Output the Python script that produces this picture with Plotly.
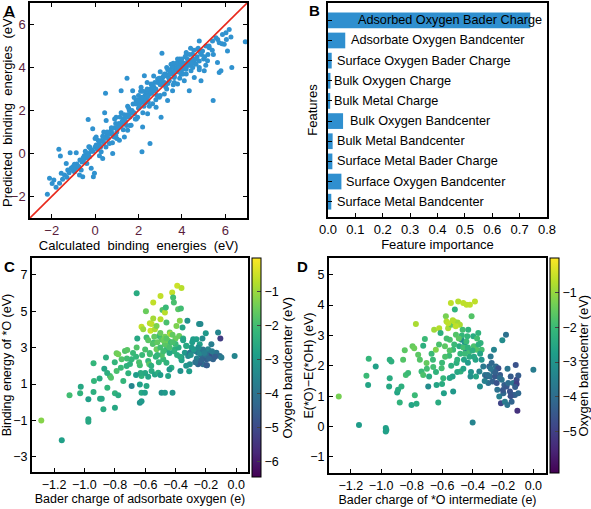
import plotly.graph_objects as go

# ---------------- Panel A data (calculated vs predicted binding energies, eV)
a_calc = [-2.2,-2.1,-1.98,-1.9,-1.67,-1.6,-1.8,-1.64,-1.56,-1.41,-1.33,-1.26,-1.15,-1.1,-1.03,-0.95,-0.87,-0.84,-0.72,-0.64,
          -0.57,-0.49,-0.41,-0.38,-0.29,-0.26,-0.18,-0.08,-0.03,-0.32,-0.11,0.05,0.12,0.2,0.28,0.35,0.44,0.48,0.51,0.58,
          0.66,0.74,0.81,0.89,0.97,1.04,1.12,1.2,1.27,1.35,1.43,1.47,1.5,1.58,1.66,1.73,1.81,1.89,1.96,2.04,
          2.12,2.16,2.19,2.27,2.35,2.42,2.5,2.53,2.58,2.65,2.73,2.81,2.88,2.96,3.04,3.08,3.11,3.19,3.27,3.34,
          3.42,3.5,3.57,3.65,3.73,3.8,3.88,3.96,4.03,4.11,4.19,4.26,4.34,4.42,4.49,4.57,4.65,4.72,4.8,4.88,
          4.95,5.03,5.11,5.18,5.26,5.44,5.41,5.57,5.64,5.72,5.8,5.87,5.95,6.03,6.1,6.18,6.26,6.3,6.92,5.72,4.8,
          -1.2,-1.0,-0.9,-0.8,-0.7,-0.6,-0.5,-0.4,-0.3,-0.2,-0.1,0.0,0.1,0.2,0.3,0.4,0.5,0.6,0.7,0.8,
          0.9,1.0,1.1,1.2,1.3,1.4,1.5,1.6,1.7,1.8,1.9,2.0,2.1,2.2,2.3,2.4,2.5,2.6,2.7,2.8,
          2.9,3.0,3.1,3.2,3.3,3.4,3.5,3.6,3.7,3.8,3.9,4.0,4.1,4.2,4.3,4.4,4.5,4.6,4.7,4.8,4.9,5.0,5.2,5.4,
          0.2,0.5,0.8,1.0,1.3,1.6,1.9,2.2,2.5,2.8,3.0,3.3,3.6,3.9,4.2,4.5,4.8,5.1,
          0.0,0.4,0.9,1.2,1.5,1.8,2.1,2.4,2.7,3.0,3.3,3.6,3.9,4.2,
          2.05,2.15,2.25,2.35,2.45,2.1,2.3,2.4,3.45,3.55,3.75,3.85,3.95,4.05,4.15,4.35,4.45,3.65,3.35,0.55,0.75,0.95,1.15,-0.15,-0.55,
          -1.5,-1.3,-1.1,-0.95,-0.75,-0.55,-0.35,-0.15,0.05,0.25,0.45,0.65,0.85,1.05,1.25,1.45,1.65,1.85,2.05,2.25,
          2.45,2.65,2.85,3.05,3.25,3.45,3.65,3.85,4.05,4.25,4.45,4.65,4.85,5.05,5.25,5.45,5.65,5.85,6.05,
          -0.45,-0.25,0.15,0.35,0.55,0.75,0.95,1.15,1.35,1.55,1.75,1.95,2.15,2.35,2.55,2.75,2.95,3.15,3.35,3.55,
          3.75,3.95,4.15,4.35,4.55,4.75,2.0,2.2,2.4,2.6,3.0,3.2,3.4,3.6,3.8,4.0,4.2,4.4]
a_pred = [-1.9,-1.15,-1.4,-1.23,0.2,-0.12,-1.57,-1.38,-0.92,-1.0,-0.46,-0.77,0.03,-0.69,-0.62,-0.85,0.03,-0.49,-1.0,-0.77,
          -1.08,-0.23,0.0,-0.46,0.31,-0.15,-0.69,-1.08,-0.92,1.58,1.15,0.77,0.31,0.54,0.08,-0.23,1.9,2.8,1.54,0.92,
          0.46,1.08,0.0,0.77,1.69,1.23,0.62,2.92,1.38,0.77,1.69,3.5,1.08,2.0,1.31,2.92,1.85,2.46,1.69,2.15,
          3.08,0.08,1.23,3.62,2.46,1.85,2.77,0.46,3.23,2.31,2.92,2.15,3.46,2.62,1.69,4.66,3.23,2.77,3.69,2.46,
          3.38,4.15,2.92,3.54,4.0,3.23,4.31,3.69,4.08,3.38,3.92,4.38,2.92,3.85,4.62,3.54,4.15,4.85,4.0,3.38,
          4.77,3.85,5.0,4.31,4.92,2.46,5.23,5.38,4.23,5.15,3.85,5.54,5.08,5.62,4.77,5.77,5.42,4.0,5.2,3.77,5.23,
          -0.9,-0.8,-0.7,-0.6,-0.3,-0.4,-0.1,-0.2,0.0,0.2,0.1,0.3,0.2,0.4,0.6,0.5,0.8,0.7,1.0,0.9,
          1.2,1.0,1.4,1.3,1.6,1.5,1.8,1.7,2.0,1.9,2.3,2.1,2.5,2.4,2.7,2.6,2.9,2.8,3.1,3.0,
          3.3,3.2,3.5,3.3,3.6,3.5,3.8,3.7,3.9,3.8,4.1,3.9,4.2,4.0,4.3,4.1,4.4,4.2,4.5,4.3,4.6,4.4,4.6,4.8,
          -0.1,0.3,0.5,0.7,1.1,1.3,1.6,1.9,2.2,2.5,2.7,3.0,3.2,3.5,3.7,4.0,3.9,4.1,
          0.7,1.0,1.6,1.9,2.2,2.6,2.9,3.3,3.6,3.8,4.0,4.1,4.4,4.6,
          2.3,2.6,2.5,2.8,2.7,2.45,2.35,2.65,3.7,3.8,3.95,4.1,3.85,4.2,4.0,4.1,4.25,3.6,3.25,0.75,1.0,0.85,1.35,0.15,-0.35,
          -1.2,-1.1,-0.7,-0.5,-0.6,-0.2,-0.1,0.1,0.4,0.3,0.7,0.9,0.8,1.2,1.5,1.3,1.9,1.6,2.4,2.2,
          2.4,2.9,2.7,3.4,3.1,3.7,3.3,4.0,3.7,4.2,4.2,4.4,4.7,4.5,5.0,4.6,5.3,5.1,5.3,
          0.1,0.3,0.6,0.8,1.0,1.2,1.4,1.7,1.8,2.1,2.3,2.5,2.6,2.9,3.0,3.3,3.5,3.6,3.9,4.0,
          4.2,4.3,4.5,4.6,4.8,4.9,2.7,2.9,3.0,3.2,3.5,3.7,3.9,4.2,4.4,4.4,4.7,4.9]

# ---------------- Panel B data (feature importance)
features = ["Adsorbed Oxygen Bader Charge", "Adsorbate Oxygen Bandcenter", "Surface Oxygen Bader Charge",
            "Bulk Oxygen Charge", "Bulk Metal Charge", "Bulk Oxygen Bandcenter", "Bulk Metal Bandcenter",
            "Surface Metal Bader Charge", "Surface Oxygen Bandcenter", "Surface Metal Bandcenter"]
importance = [0.739, 0.063, 0.0135, 0.009, 0.008, 0.055, 0.017, 0.016, 0.049, 0.012]
label_x = [0.102, 0.075, 0.026, 0.016, 0.016, 0.074, 0.026, 0.026, 0.059, 0.026]

# ---------------- Panel C data (Bader charge vs binding energy of *O, colour = O bandcenter)
c_x = [-1.284,-1.149,-1.098,-1.028,-1.024,-0.974,-0.974,-0.974,-0.94,-0.937,-0.94,-0.897,-0.886,-0.875,-0.869,-0.858,-0.849,-0.832,-0.825,-0.799,
       -0.799,-0.788,-0.777,-0.788,-0.777,-0.755,-0.744,-0.733,-0.722,-0.718,-0.711,-0.689,-0.689,-0.656,-0.656,-0.652,-0.635,-0.624,-0.635,-0.635,
       -0.624,-0.624,-0.624,-0.613,-0.602,-0.595,-0.591,-0.591,-0.58,-0.573,-0.569,-0.569,-0.565,-0.558,-0.558,-0.547,-0.547,-0.543,-0.536,-0.536,
       -0.525,-0.525,-0.514,-0.508,-0.499,-0.499,-0.492,-0.492,-0.486,-0.481,-0.47,-0.47,-0.47,-0.464,-0.46,-0.46,-0.449,-0.449,-0.438,-0.433,
       -0.427,-0.422,-0.42,-0.416,-0.411,-0.405,-0.394,-0.389,-0.383,-0.376,-0.372,-0.368,-0.365,-0.361,-0.361,-0.354,-0.35,-0.339,-0.328,-0.322,
       -0.317,-0.306,-0.295,-0.284,-0.273,-0.267,-0.263,-0.252,-0.245,-0.241,-0.236,-0.23,-0.223,-0.219,-0.214,-0.208,-0.201,-0.197,-0.193,-0.186,
       -0.179,-0.175,-0.164,-0.153,-0.142,-0.131,-0.12,-0.109,-0.105,-0.098,-0.011,-0.252,-0.306,-0.197,-0.241,
       -0.55,-0.52,-0.5,-0.48,-0.46,-0.45,-0.43,-0.41,-0.40,-0.38,-0.57,-0.53,-0.49,-0.44,-0.6,-0.62,-0.58,-0.47,-0.42,-0.51,
       -0.66,-0.64,-0.68,-0.56,-0.6,-0.58,-0.63,-0.66,-0.5,-0.44,-0.36,-0.33,-0.31,-0.35,-0.33,
       -0.52,-0.48,-0.44,-0.4,-0.37,-0.54,-0.5,-0.46,-0.42,-0.39,-0.3,-0.28,-0.26,-0.24,-0.22,-0.2,-0.18,-0.16,-0.14,-0.29,
       -0.27,-0.25,-0.23,-0.21,-0.72,-0.7,-0.76,-0.8,-0.85,-0.9]
c_y = [-1.0,-2.08,0.38,0.49,0.85,0.16,-0.94,-1.07,0.56,1.17,2.14,0.19,0.19,-0.39,1.84,2.45,0.8,1.44,1.35,0.49,
       -0.3,2.69,2.63,1.72,0.39,2.36,1.17,2.82,1.99,2.87,1.59,0.89,2.36,5.99,3.0,3.5,2.03,1.44,0.98,-0.03,
       0.52,0.06,4.14,4.01,0.52,5.0,3.55,0.89,2.27,2.08,4.34,2.63,3.92,4.29,1.72,5.48,4.6,3.28,1.53,4.01,
       4.19,2.91,1.62,3.64,5.84,4.56,3.46,0.52,5.07,2.36,4.93,3.18,0.52,5.2,4.38,2.17,1.44,3.37,3.83,3.73,
       1.9,6.03,0.52,5.75,5.48,2.91,4.19,6.39,5.11,3.64,4.47,1.72,5.15,6.27,2.45,4.1,3.5,2.72,3.09,4.47,
       2.54,2.08,3.0,3.46,2.82,2.21,3.46,2.72,4.29,3.18,4.29,2.58,3.5,2.08,2.82,2.45,3.79,2.36,2.03,2.91,
       2.63,2.54,3.18,2.36,2.63,2.72,3.83,2.54,3.5,2.45,2.54,2.08,2.72,2.03,2.17,
       3.2,3.3,3.0,3.4,2.9,3.1,3.3,2.8,3.5,3.0,2.7,2.5,2.6,2.7,2.9,2.6,3.4,3.6,3.7,2.2,
       2.5,2.2,2.7,2.0,1.6,1.4,1.6,1.5,1.5,1.8,2.3,2.0,1.7,3.4,3.1,
       2.6,2.8,3.0,3.2,2.5,3.6,3.8,3.5,3.3,2.6,2.6,2.9,2.4,2.7,2.9,2.6,2.4,2.8,2.5,3.3,
       2.2,3.0,2.3,2.7,2.4,2.1,1.9,2.2,1.6,1.3]
c_band = [-1.2,-2.8,-2.0,-2.3,-2.6,-2.8,-2.6,-2.6,-2.4,-2.2,-2.2,-2.6,-2.6,-2.5,-2.7,-2.4,-2.2,-1.9,-1.8,-2.3,
          -2.6,-1.5,-1.4,-1.9,-2.5,-1.8,-2.2,-1.8,-2.3,-1.7,-2.3,-3.5,-2.2,-2.5,-1.8,-2.6,-2.0,-2.3,-2.8,-3.2,
          -2.6,-3.0,-0.6,-1.0,-2.8,-1.5,-2.0,-2.6,-2.2,-1.7,-0.7,-1.9,-0.5,-0.6,-2.5,-0.6,-0.9,-2.0,-2.7,-0.8,
          -1.3,-1.5,-2.4,-2.1,-0.6,-0.7,-1.8,-3.2,-1.8,-2.1,-0.7,-1.7,-3.0,-2.1,-1.9,-2.3,-2.7,-1.4,-1.4,-0.8,
          -2.4,-0.6,-3.1,-2.0,-1.9,-2.4,-1.3,-0.5,-1.7,-1.5,-1.2,-3.2,-2.0,-0.7,-3.0,-2.7,-2.4,-3.0,-2.3,-3.2,
          -3.4,-3.3,-3.0,-2.9,-3.5,-3.4,-2.8,-3.8,-3.2,-2.8,-3.4,-4.2,-3.3,-4.0,-3.6,-4.3,-3.0,-4.5,-4.2,-3.5,
          -4.0,-4.8,-3.7,-4.4,-3.9,-4.0,-3.5,-4.2,-5.3,-3.8,-3.5,-4.3,-3.9,-4.6,-4.6,
          -1.8,-1.6,-2.0,-1.5,-2.2,-1.7,-2.1,-2.3,-1.5,-2.5,-2.0,-2.3,-1.8,-2.6,-1.9,-2.1,-1.7,-1.4,-1.6,-2.2,
          -2.2,-1.9,-2.1,-2.4,-2.6,-2.7,-2.5,-2.9,-2.9,-3.0,-2.8,-3.1,-2.9,-2.7,-2.6,
          -2.2,-2.0,-1.9,-2.1,-2.5,-1.6,-1.5,-1.7,-1.9,-2.4,-3.2,-3.0,-3.6,-3.4,-3.9,-4.1,-4.3,-3.8,-4.5,-2.9,
          -4.0,-3.3,-4.4,-3.7,-2.0,-2.3,-2.1,-2.2,-2.4,-2.5]

# ---------------- Panel D data (Bader charge vs E(*O)-E(*OH), colour = O bandcenter)
d_x = [-1.279,-1.146,-1.082,-1.086,-1.097,-1.036,-0.97,-0.97,-0.966,-0.948,-0.944,-0.944,-0.933,-0.895,-0.889,-0.878,-0.867,-0.856,-0.845,-0.838,
       -0.823,-0.801,-0.794,-0.783,-0.779,-0.772,-0.768,-0.757,-0.746,-0.735,-0.724,-0.724,-0.713,-0.702,-0.691,-0.685,-0.669,-0.658,-0.652,-0.641,
       -0.636,-0.625,-0.619,-0.61,-0.603,-0.592,-0.588,-0.581,-0.575,-0.571,-0.56,-0.553,-0.549,-0.542,-0.538,-0.531,-0.527,-0.527,-0.52,-0.516,
       -0.509,-0.505,-0.498,-0.494,-0.487,-0.483,-0.478,-0.472,-0.465,-0.461,-0.456,-0.45,-0.443,-0.439,-0.434,-0.428,-0.421,-0.417,-0.413,-0.406,
       -0.399,-0.395,-0.391,-0.384,-0.377,-0.373,-0.362,-0.355,-0.351,-0.347,-0.34,-0.329,-0.318,-0.307,-0.296,-0.29,-0.285,-0.281,-0.274,-0.268,
       -0.263,-0.259,-0.252,-0.246,-0.241,-0.237,-0.23,-0.224,-0.219,-0.213,-0.208,-0.204,-0.197,-0.191,-0.187,-0.18,-0.176,-0.171,-0.165,-0.154,
       -0.149,-0.143,-0.136,-0.132,-0.121,-0.116,-0.11,-0.11,-0.105,-0.099,-0.099,0.0,
       -0.58,-0.55,-0.52,-0.5,-0.48,-0.46,-0.44,-0.42,-0.4,-0.38,-0.36,-0.54,-0.5,-0.46,-0.6,-0.62,-0.57,-0.47,-0.43,-0.41,
       -0.56,-0.53,-0.51,-0.49,-0.45,-0.43,-0.39,-0.37,-0.35,-0.55,-0.6,-0.64,-0.66,-0.7,-0.25,-0.22,-0.2,-0.17,-0.15,-0.12,
       -0.28,-0.32,-0.34,-0.3]
d_y = [0.99,0.05,2.23,1.37,1.67,1.98,-0.05,-0.16,-0.11,1.32,1.59,2.2,2.14,1.12,1.21,0.79,1.32,2.2,2.51,1.7,
       1.76,0.71,2.64,2.58,1.03,3.38,0.75,2.36,2.2,1.81,1.7,2.66,2.88,2.09,1.32,1.65,2.4,1.96,3.19,2.53,
       1.37,0.79,3.24,3.08,1.92,1.59,1.1,2.64,3.63,3.46,3.24,2.33,2.86,4.07,3.35,1.65,2.53,1.15,3.46,3.85,
       3.02,2.09,3.43,4.12,2.64,3.35,1.81,2.86,3.19,4.07,2.2,2.75,2.53,4.01,2.97,3.19,2.47,4.01,1.65,3.63,
       0.13,2.97,2.64,4.12,1.65,2.53,3.08,1.81,1.32,2.75,2.53,1.98,1.7,1.65,1.43,1.98,1.65,2.31,2.09,1.48,
       1.81,2.53,1.65,1.98,1.43,1.21,1.92,0.99,1.7,0.77,1.54,2.84,1.1,1.37,0.82,3.02,1.32,0.71,1.43,1.15,
       1.65,0.82,1.04,1.43,1.04,2.03,1.54,1.4,0.52,1.68,1.1,1.87,
       2.3,2.5,2.7,2.2,2.4,2.6,2.8,2.3,2.5,2.2,2.7,2.0,1.8,1.9,2.1,2.7,2.9,3.0,2.1,1.8,
       3.4,3.5,3.3,2.9,2.4,2.6,2.3,2.9,2.4,1.6,1.4,1.8,2.2,1.9,1.8,1.6,1.2,1.9,1.0,1.3,
       1.9,1.5,2.2,1.7]
d_band = [-1.3,-2.8,-2.1,-2.6,-2.0,-2.7,-2.7,-2.7,-2.7,-2.5,-2.4,-2.3,-2.3,-2.6,-2.4,-2.2,-2.3,-1.7,-1.6,-1.9,
          -2.0,-2.6,-1.5,-1.4,-2.0,-0.8,-2.4,-1.6,-1.7,-2.0,-1.8,-2.3,-2.0,-1.5,-3.2,-2.4,-2.0,-1.9,-0.9,-1.2,
          -2.6,-2.4,-0.7,-2.3,-1.9,-2.1,-2.7,-1.6,-1.3,-0.7,-0.8,-2.0,-1.8,-0.6,-1.5,-2.7,-2.0,-2.9,-0.6,-2.2,
          -1.7,-2.3,-0.9,-0.7,-2.4,-0.8,-2.2,-3.2,-1.9,-0.6,-2.6,-2.9,-3.6,-0.6,-2.1,-2.2,-1.9,-0.6,-3.1,-1.7,
          -3.4,-2.4,-1.8,-0.6,-2.6,-1.7,-2.2,-3.4,-3.2,-2.2,-1.9,-3.7,-3.8,-4.3,-3.9,-4.2,-4.0,-3.7,-4.1,-4.3,
          -3.9,-3.4,-4.5,-4.0,-4.6,-3.9,-4.7,-3.5,-4.4,-4.9,-3.8,-3.2,-4.1,-4.3,-3.6,-3.9,-4.5,-3.8,-4.0,-4.6,
          -4.4,-4.2,-4.5,-3.8,-4.3,-4.6,-4.8,-5.0,-5.3,-4.4,-4.1,-3.6,
          -1.8,-1.7,-2.0,-2.2,-2.1,-1.9,-2.0,-2.4,-2.3,-2.6,-2.3,-2.3,-2.5,-2.6,-2.0,-1.8,-1.9,-2.1,-2.8,-3.0,
          -0.6,-0.7,-0.6,-1.6,-2.0,-2.2,-2.5,-1.9,-2.6,-2.6,-2.4,-2.2,-2.0,-1.9,-4.3,-4.0,-4.5,-3.8,-4.6,-4.4,
          -3.8,-3.5,-3.0,-3.9]

W, H = 591, 509
def fx(p): return p / W
def fy(p): return 1 - p / H

FONT = "Liberation Sans, Arial, Helvetica, sans-serif"
BLUE = "#3092cf"

fig = go.Figure()

# Panel A
fig.add_trace(go.Scatter(x=a_calc, y=a_pred, mode="markers",
                         marker=dict(size=5, color=BLUE, line=dict(width=0)),
                         xaxis="x", yaxis="y", showlegend=False))
fig.add_trace(go.Scatter(x=[-3, 7], y=[-3, 7], mode="lines",
                         line=dict(color="#e8291c", width=1.6),
                         xaxis="x", yaxis="y", showlegend=False))

# Panel B
fig.add_trace(go.Bar(x=importance, y=list(range(len(features))), orientation="h",
                     marker=dict(color="#2f8fcf", line=dict(width=0)), width=0.78,
                     xaxis="x2", yaxis="y2", showlegend=False))

# Panel C
fig.add_trace(go.Scatter(x=c_x, y=c_y, mode="markers",
                         marker=dict(size=6, color=c_band, coloraxis="coloraxis", line=dict(width=0)),
                         xaxis="x3", yaxis="y3", showlegend=False))
# Panel D
fig.add_trace(go.Scatter(x=d_x, y=d_y, mode="markers",
                         marker=dict(size=6, color=d_band, coloraxis="coloraxis2", line=dict(width=0)),
                         xaxis="x4", yaxis="y4", showlegend=False))

axis_common = dict(showgrid=False, zeroline=False, showline=True, linecolor="black",
                   ticks="inside", ticklen=4, tickcolor="black", automargin=False,
                   tickfont=dict(family=FONT, size=13, color="black"),
                   title_font=dict(family=FONT, size=13, color="black"))

maroon = "#5a1d3c"
layout = dict(
    width=W, height=H, margin=dict(l=0, r=0, t=0, b=0, autoexpand=False),
    paper_bgcolor="white", plot_bgcolor="white",
    font=dict(family=FONT, size=13, color="black"),
    xaxis=dict(axis_common, domain=[fx(30), fx(247)], range=[-3, 7], tickvals=[-2, 0, 2, 4, 6],
               linewidth=1.5, mirror="ticks", anchor="y",
               tickfont=dict(family=FONT, size=13, color=maroon),
               title=dict(text="Calculated  binding  energies  (eV)", standoff=4)),
    yaxis=dict(axis_common, domain=[fy(218), fy(3)], range=[-3, 7], tickvals=[-2, 0, 2, 4, 6],
               linewidth=1.5, mirror="ticks", anchor="x",
               tickfont=dict(family=FONT, size=13, color=maroon),
               title=dict(text="Predicted  binding  energies  (eV)", standoff=2)),
    xaxis2=dict(axis_common, domain=[fx(328), fx(547)], range=[0, 0.8],
                tickvals=[0, 0.1, 0.2, 0.3, 0.4, 0.5, 0.6, 0.7, 0.8], tickformat=".1f",
                linewidth=1.5, mirror=True, anchor="y2",
                title=dict(text="Feature importance", standoff=3)),
    yaxis2=dict(axis_common, domain=[fy(217), fy(3)], range=[9.76, -0.86],
                tickvals=list(range(len(features))), showticklabels=False,
                linewidth=1.5, mirror=True, anchor="x2",
                title=dict(text="Features", standoff=6)),
    xaxis3=dict(axis_common, domain=[fx(32), fx(248)], range=[-1.345, 0.077],
                tickvals=[-1.4, -1.2, -1.0, -0.8, -0.6, -0.4, -0.2, 0.0], tickformat=".1f",
                linewidth=2, mirror=True, anchor="y3",
                tickfont=dict(family=FONT, size=12.5, color="black"),
                title=dict(text="Bader charge of adsorbate oxygen (e)", standoff=3,
                           font=dict(family=FONT, size=12.5))),
    yaxis3=dict(axis_common, domain=[fy(472), fy(258)], range=[-3.83, 7.92],
                tickvals=[-3, -1, 1, 3, 5, 7],
                linewidth=2, mirror=True, anchor="x3",
                tickfont=dict(family=FONT, size=12.5, color="black"),
                title=dict(text="Binding energy of *O (eV)", standoff=4,
                           font=dict(family=FONT, size=12.5))),
    xaxis4=dict(axis_common, domain=[fx(329), fx(546)], range=[-1.343, 0.083],
                tickvals=[-1.4, -1.2, -1.0, -0.8, -0.6, -0.4, -0.2, 0.0], tickformat=".1f",
                linewidth=2, mirror=True, anchor="y4",
                tickfont=dict(family=FONT, size=12.5, color="black"),
                title=dict(text="Bader charge of *O intermediate (e)", standoff=3,
                           font=dict(family=FONT, size=12.5))),
    yaxis4=dict(axis_common, domain=[fy(473), fy(258)], range=[-1.53, 5.55],
                tickvals=[-1, 0, 1, 2, 3, 4, 5],
                linewidth=2, mirror=True, anchor="x4",
                tickfont=dict(family=FONT, size=12.5, color="black")),
    coloraxis=dict(colorscale="Viridis", cmin=-6.45, cmax=0.0,
                   colorbar=dict(x=fx(252), xanchor="left", xpad=0, ypad=0,
                                 thickness=9, thicknessmode="pixels",
                                 y=fy(258), yanchor="top", len=(477 - 258) / H, lenmode="fraction",
                                 outlinewidth=1, outlinecolor="black",
                                 tickvals=[-1, -2, -3, -4, -5, -6], ticks="inside", ticklen=4,
                                 tickfont=dict(family=FONT, size=12.5))),
    coloraxis2=dict(colorscale="Viridis", cmin=-6.2, cmax=0.0,
                    colorbar=dict(x=fx(550), xanchor="left", xpad=0, ypad=0,
                                  thickness=9, thicknessmode="pixels",
                                  y=fy(258), yanchor="top", len=(473 - 258) / H, lenmode="fraction",
                                  outlinewidth=1, outlinecolor="black",
                                  tickvals=[-1, -2, -3, -4, -5], ticks="inside", ticklen=4,
                                  tickfont=dict(family=FONT, size=12.5))),
)
fig.update_layout(**layout)

annotations = []
for i, (name, lx) in enumerate(zip(features, label_x)):
    annotations.append(dict(x=lx, y=i, xref="x2", yref="y2", text=name, showarrow=False,
                            xanchor="left", yanchor="middle",
                            font=dict(family=FONT, size=12.7, color="black")))
for letter, px, py in [("A", 2, 0), ("B", 307, 0), ("C", 2, 256), ("D", 295, 256)]:
    annotations.append(dict(x=fx(px), y=fy(py), xref="paper", yref="paper", text="<b>%s</b>" % letter,
                            showarrow=False, xanchor="left", yanchor="top",
                            font=dict(family=FONT, size=15, color="black")))
# rotated titles (D y-axis and both colour bars)
for text, px, py in [("E(*O)−E(*OH) (eV)", 308, 365.5),
                     ("Oxygen bandcenter (eV)", 287, 367.5),
                     ("Oxygen bandcenter (eV)", 583, 365.5)]:
    annotations.append(dict(x=fx(px), y=fy(py), xref="paper", yref="paper", text=text,
                            showarrow=False, textangle=-90, xanchor="center", yanchor="middle",
                            font=dict(family=FONT, size=13 if "Oxygen" in text else 12.5, color="black")))
fig.update_layout(annotations=annotations)

fig.write_html("out.html", config={"displayModeBar": False},
               post_script="document.body.style.margin='0';document.body.style.overflow='hidden';")
